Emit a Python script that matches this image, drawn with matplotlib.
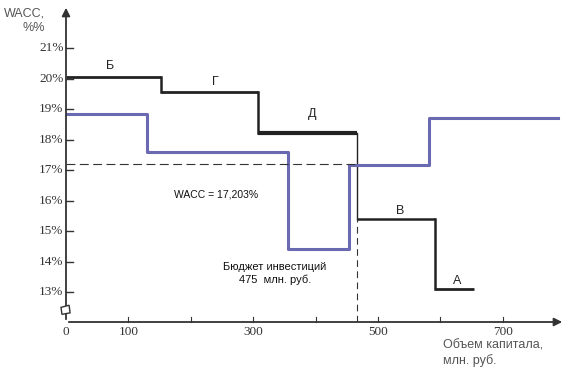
import matplotlib
matplotlib.use('Agg')
import matplotlib.pyplot as plt
from matplotlib import patches

# step curve of marginal cost of capital (black), x = capital volume, y = WACC %
mcc_x = [0, 152, 308, 466, 591, 654]
mcc_y = [20.05, 19.55, 18.2, 15.4, 13.1]
mcc_labels = ['Б', 'Г', 'Д', 'В', 'А']
mcc_label_pos = [(70, 20.4), (239, 19.9), (394, 18.85), (535, 15.65), (627, 13.35)]

# blue step curve
wacc_x = [0, 130, 356, 453, 582, 789]
wacc_y = [18.85, 17.6, 14.4, 17.15, 18.7]

budget = 466
wacc_level = 17.2

yticks = [13, 14, 15, 16, 17, 18, 19, 20, 21]
xticks_minor = [100, 200, 300, 400, 500, 600, 700]
xticks_labeled = [0, 100, 300, 500, 700]

W, H = 573, 374
fig = plt.figure(figsize=(W / 100, H / 100), dpi=100)
ax = fig.add_axes([66 / W, (H - 322) / H, (565 - 66) / W, (322 - 5) / H])
ax.set_xlim(0, 800)
ax.set_ylim(12.02, 22.41)
ax.axis('off')

serif = 'Liberation Serif'
sans = 'Liberation Sans'
axcol = '#333333'

# axes with arrows
ax.annotate('', xy=(0, 1.0), xytext=(0, 0), xycoords='axes fraction',
			arrowprops=dict(arrowstyle='-|>', color=axcol, lw=1.3, mutation_scale=12))
ax.annotate('', xy=(1.0, 0), xytext=(0, 0), xycoords='axes fraction',
			arrowprops=dict(arrowstyle='-|>', color=axcol, lw=1.3, mutation_scale=12))

# y ticks
for v in yticks:
	ax.plot([0, 11], [v, v], color=axcol, lw=1, clip_on=False)
	ax.text(-4, v, '%d%%' % v, ha='right', va='center', fontsize=9.5, family=serif, color=axcol)

# x ticks
for v in xticks_minor:
	ax.plot([v, v], [12.02, 12.2], color=axcol, lw=0.8, clip_on=False)
for v in xticks_labeled:
	ax.text(v, 11.9, str(v), ha='center', va='top', fontsize=9.5, family=serif, color=axcol)

# axis break mark
brk = patches.Polygon([(-8, 12.5), (5, 12.57), (6.5, 12.32), (-6.5, 12.27)], closed=True,
					  facecolor='white', edgecolor=axcol, lw=1, clip_on=False, zorder=5)
ax.add_patch(brk)

# black step curve
widths = [2, 2, 3, 1.8, 2]
for i in range(len(mcc_y)):
	ax.plot([mcc_x[i], mcc_x[i + 1]], [mcc_y[i], mcc_y[i]], color='#222222', lw=widths[i],
			solid_capstyle='butt')
	if i + 1 < len(mcc_y):
		ax.plot([mcc_x[i + 1], mcc_x[i + 1]], [mcc_y[i], mcc_y[i + 1]], color='#222222',
				lw=1.8 if i != 2 else 1.0)
for lab, (lx, ly) in zip(mcc_labels, mcc_label_pos):
	ax.text(lx, ly, lab, ha='center', va='center', fontsize=9, family=sans, color='#222222')

# blue step curve
bx, by = [], []
for i in range(len(wacc_y)):
	bx += [wacc_x[i], wacc_x[i + 1]]
	by += [wacc_y[i], wacc_y[i]]
ax.plot(bx, by, color='#6a6ab2', lw=2.2)

# dashed reference lines
ax.plot([0, budget], [wacc_level, wacc_level], color=axcol, lw=0.8, dashes=(8, 4))
ax.plot([budget, budget], [12.02, mcc_y[3]], color=axcol, lw=0.8, dashes=(6, 4))

ax.text(240, 16.2, 'WACC = 17,203%', ha='center', va='center', fontsize=7.5, family=sans, color='#111111')
ax.text(335, 13.6, 'Бюджет инвестиций\n475  млн. руб.', ha='center', va='center', fontsize=8,
		family=sans, color='#111111', linespacing=1.3)

fig.text(24 / W, 1 - 13 / H, 'WACC,', ha='center', va='center', fontsize=9, family=sans, color='#555555')
fig.text(34 / W, 1 - 28 / H, '%%', ha='center', va='center', fontsize=9, family=sans, color='#555555')
fig.text(443 / W, 1 - 340 / H, 'Объем капитала,\nмлн. руб.', ha='left', va='top', fontsize=9,
		 family=sans, color='#555555', linespacing=1.2)

plt.savefig('out.png', dpi=100)
